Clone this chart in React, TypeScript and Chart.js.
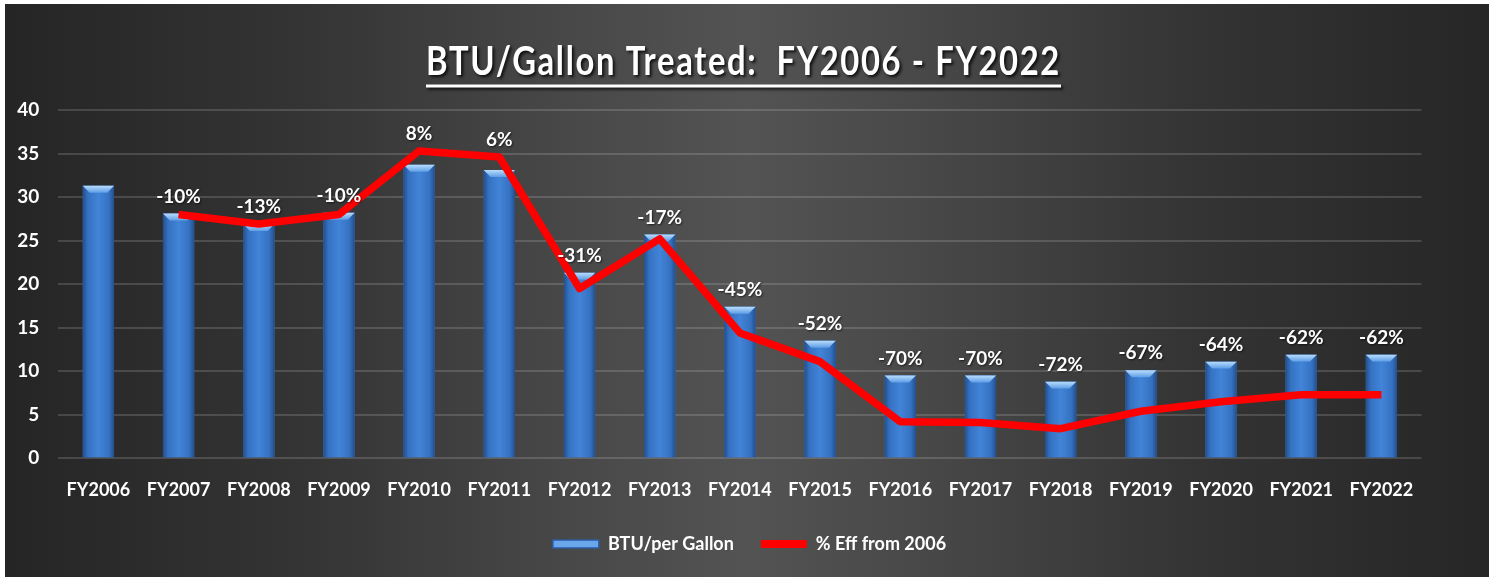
import React, { useEffect, useRef } from 'react';
import { Chart, registerables } from 'chart.js';

Chart.register(...registerables);

const categories = ['FY2006', 'FY2007', 'FY2008', 'FY2009', 'FY2010', 'FY2011', 'FY2012', 'FY2013', 'FY2014', 'FY2015', 'FY2016', 'FY2017', 'FY2018', 'FY2019', 'FY2020', 'FY2021', 'FY2022'];
const btuPerGallon = [31.3, 28.1, 26.9, 28.2, 33.7, 33.1, 21.3, 25.7, 17.4, 13.5, 9.5, 9.5, 8.8, 10.1, 11.1, 11.9, 11.9];
const effFrom2006 = [null, 28.0, 26.9, 28.0, 35.3, 34.6, 19.5, 25.2, 14.4, 11.1, 4.2, 4.1, 3.4, 5.4, 6.5, 7.3, 7.3];
const effPercentLabels = [null, '-10%', '-13%', '-10%', '8%', '6%', '-31%', '-17%', '-45%', '-52%', '-70%', '-70%', '-72%', '-67%', '-64%', '-62%', '-62%'];
const seriesNames = ['BTU/per Gallon', '% Eff from 2006'];
const chartTitle = 'BTU/Gallon Treated:  FY2006 - FY2022';

const FONT = 'Lato, "Open Sans", sans-serif';

const backgroundPlugin = {
  id: 'bgGradient',
  beforeDraw(chart: any) {
    const { ctx, width, height } = chart;
    ctx.save();
    const g = ctx.createLinearGradient(0, 0, width, 0);
    g.addColorStop(0, '#252525');
    g.addColorStop(0.2, '#343434');
    g.addColorStop(0.38, '#484848');
    g.addColorStop(0.5, '#535353');
    g.addColorStop(0.62, '#484848');
    g.addColorStop(0.8, '#343434');
    g.addColorStop(1, '#262626');
    ctx.fillStyle = g;
    ctx.fillRect(0, 0, width, height);
    ctx.restore();
  },
};

const titlePlugin = {
  id: 'underlinedTitle',
  afterDraw(chart: any) {
    const { ctx } = chart;
    const cx = 738.5;
    const baseline = 70.8;
    const targetW = 635;
    ctx.save();
    ctx.font = `bold 40px ${FONT}`;
    try { (ctx as any).letterSpacing = '2px'; } catch (e) { /* ignore */ }
    const w = ctx.measureText(chartTitle).width;
    const sx = targetW / w;
    ctx.shadowColor = 'rgba(0,0,0,0.8)';
    ctx.shadowOffsetX = 2;
    ctx.shadowOffsetY = 2;
    ctx.shadowBlur = 3;
    ctx.fillStyle = '#ffffff';
    ctx.textAlign = 'left';
    ctx.textBaseline = 'alphabetic';
    ctx.translate(cx - targetW / 2, baseline);
    ctx.scale(sx, 1);
    ctx.fillText(chartTitle, 0, 0);
    ctx.setTransform(1, 0, 0, 1, 0, 0);
    ctx.fillRect(cx - targetW / 2, 80.5, targetW, 3);
    ctx.restore();
  },
};

const barBevelPlugin = {
  id: 'barBevel',
  afterDatasetDraw(chart: any, args: any) {
    if (args.index !== 0) return;
    const { ctx } = chart;
    const meta = chart.getDatasetMeta(0);
    ctx.save();
    meta.data.forEach((el: any) => {
      const { x, y, base, width } = el.getProps(['x', 'y', 'base', 'width'], true);
      const l = x - width / 2;
      const r = x + width / 2;
      const t = y;
      const b = base;
      const g = ctx.createLinearGradient(l, 0, r, 0);
      g.addColorStop(0, '#234f8c');
      g.addColorStop(0.16, '#3571c1');
      g.addColorStop(0.5, '#4284d8');
      g.addColorStop(0.84, '#3571c1');
      g.addColorStop(1, '#234f8c');
      ctx.fillStyle = g;
      ctx.fillRect(l, t, width, b - t);
      const bev = Math.min(7, width * 0.22);
      const tg = ctx.createLinearGradient(0, t, 0, t + bev);
      tg.addColorStop(0, '#b8dcfc');
      tg.addColorStop(1, '#5e9ee6');
      ctx.fillStyle = tg;
      ctx.beginPath();
      ctx.moveTo(l, t);
      ctx.lineTo(r, t);
      ctx.lineTo(r - bev, t + bev);
      ctx.lineTo(l + bev, t + bev);
      ctx.closePath();
      ctx.fill();
    });
    ctx.restore();
  },
};

const pctLabelPlugin = {
  id: 'pctLabels',
  afterDatasetsDraw(chart: any) {
    const { ctx } = chart;
    const bars = chart.getDatasetMeta(0).data;
    const pts = chart.getDatasetMeta(1).data;
    ctx.save();
    ctx.font = `bold 19px ${FONT}`;
    ctx.fillStyle = '#ffffff';
    ctx.textAlign = 'center';
    ctx.textBaseline = 'middle';
    ctx.shadowColor = 'rgba(0,0,0,0.6)';
    ctx.shadowOffsetX = 1;
    ctx.shadowOffsetY = 1;
    ctx.shadowBlur = 2;
    effPercentLabels.forEach((txt, i) => {
      if (txt == null) return;
      const bar = bars[i];
      const pt = pts[i];
      let top = bar.y;
      if (pt && isFinite(pt.y)) top = Math.min(top, pt.y);
      ctx.fillText(txt, bar.x, top - 17);
    });
    ctx.restore();
  },
};

export default function App() {
  const canvasRef = useRef<HTMLCanvasElement | null>(null);

  useEffect(() => {
    document.body.style.margin = '0';
    const canvas = canvasRef.current;
    if (!canvas) return;
    Chart.defaults.font.family = FONT;
    const chart = new Chart(canvas, {
      type: 'bar',
      data: {
        labels: categories,
        datasets: [
          {
            type: 'bar',
            label: seriesNames[0],
            data: btuPerGallon,
            backgroundColor: '#3a78c8',
            borderWidth: 0,
            categoryPercentage: 1,
            barPercentage: 0.39,
            order: 1,
          } as any,
          {
            type: 'line',
            label: seriesNames[1],
            data: effFrom2006,
            borderColor: '#ff0000',
            backgroundColor: '#ff0000',
            borderWidth: 7.5,
            pointRadius: 0,
            pointHoverRadius: 0,
            tension: 0,
            borderJoinStyle: 'round',
            borderCapStyle: 'butt',
            spanGaps: false,
            order: 0,
          } as any,
        ],
      },
      options: {
        responsive: false,
        animation: false,
        devicePixelRatio: 1,
        layout: { padding: { top: 106, left: 5, right: 0, bottom: 14 } },
        plugins: {
          title: { display: false },
          tooltip: { enabled: false },
          legend: {
            display: true,
            position: 'bottom',
            labels: {
              color: '#ffffff',
              font: { family: FONT, weight: 'bold', size: 18 },
              boxWidth: 46,
              boxHeight: 8,
              padding: 27,
              sort: (a: any, b: any) => a.datasetIndex - b.datasetIndex,
              generateLabels: (c: any) => {
                const items = (Chart.defaults.plugins.legend.labels as any).generateLabels(c);
                return items.map((it: any) =>
                  it.datasetIndex === 0
                    ? { ...it, fillStyle: '#69a6ec', strokeStyle: '#2a5ca4', lineWidth: 1.5 }
                    : { ...it, fillStyle: '#ff0000', strokeStyle: '#ff0000', lineWidth: 0 }
                );
              },
            },
          },
        },
        scales: {
          x: {
            offset: true,
            grid: { display: false, drawTicks: false },
            border: { display: false },
            ticks: {
              color: '#ffffff',
              font: { family: FONT, size: 18, weight: 'bold' },
              padding: 21,
              maxRotation: 0,
              autoSkip: false,
            },
            afterFit: (s: any) => {
              s.height = 49.7;
            },
          },
          y: {
            min: 0,
            max: 40,
            ticks: {
              stepSize: 5,
              color: '#ffffff',
              font: { family: FONT, size: 19, weight: 'bold' },
              padding: 19,
            },
            grid: { color: 'rgba(255,255,255,0.15)', lineWidth: 2, drawTicks: false },
            border: { display: false },
            afterFit: (s: any) => {
              s.width = 48.3;
            },
          },
          yRight: {
            type: 'linear',
            axis: 'y',
            position: 'right',
            display: true,
            grid: { display: false, drawTicks: false },
            border: { display: false },
            ticks: { display: false },
            afterFit: (s: any) => {
              s.width = 67.5;
            },
          } as any,
        },
      } as any,
      plugins: [backgroundPlugin, barBevelPlugin, pctLabelPlugin, titlePlugin],
    });
    return () => chart.destroy();
  }, []);

  return (
    <div style={{ position: 'absolute', left: 5, top: 4, width: 1484, height: 573 }}>
      <canvas ref={canvasRef} width={1484} height={573} style={{ display: 'block', width: 1484, height: 573 }} />
    </div>
  );
}
